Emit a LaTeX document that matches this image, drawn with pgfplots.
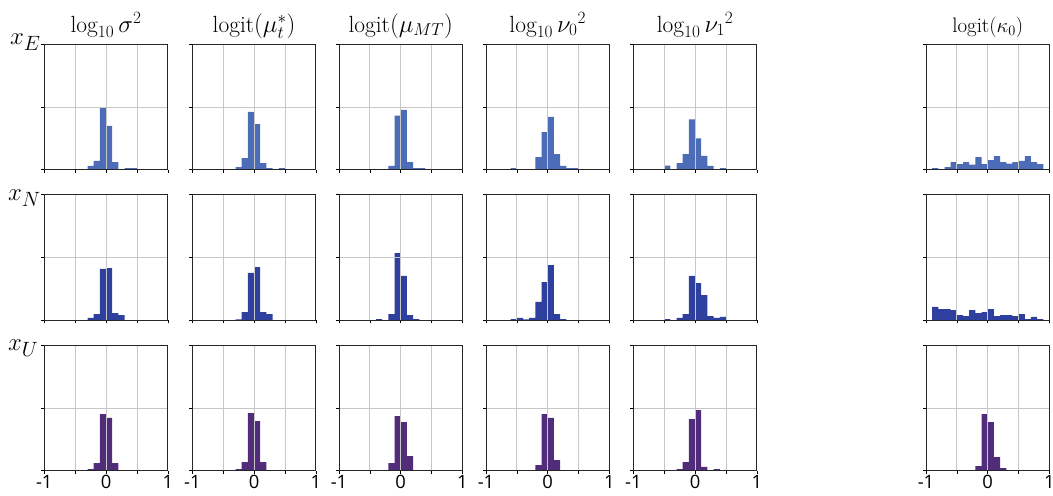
\documentclass[border=0pt]{standalone}
\usepackage{pgfplots}
\pgfplotsset{compat=1.18}
\usepackage{fontspec}
\newfontfamily\tickfont{Open Sans}

\definecolor{cE}{RGB}{76,108,184}
\definecolor{cN}{RGB}{47,63,158}
\definecolor{cU}{RGB}{80,44,122}

\pgfplotsset{
  hist/.style={
    scale only axis, width=123.5bp, height=125.5bp, anchor=south west,
    xmin=-1, xmax=1, ymin=0, ymax=1,
    xtick={-1,-0.5,0,0.5,1}, ytick={0,0.5,1},
    xticklabels={}, yticklabels={},
    grid=major, major grid style={draw=black!22, line width=0.8bp},
    axis on top,
    tick pos=left, tick align=outside, major tick length=3bp,
    tick style={black, line width=0.6bp},
    axis line style={black!85, line width=1bp},
    every axis title/.style={at={(0.5,1)}, anchor=base, yshift=12bp,
      font=\fontsize{23.5}{26}\selectfont},
    xticklabel style={font=\tickfont\fontsize{18.5}{18.5}\selectfont, yshift=2bp},
  },
  bottom/.style={xticklabels={-1,,0,,1}},
}

% x, y of lower left corner, axis options, colour, bins (left edges)
\newcommand{\hist}[5]{%
  \begin{axis}[hist, at={(#1bp,#2bp)}, #3]
    \addplot[ybar interval, fill=#4, draw=none] coordinates {#5};
  \end{axis}}

\begin{document}
\begin{tikzpicture}
\path[use as bounding box] (0,0) rectangle (1053bp,496bp);

% row x_E
\hist{44.3}{326.3}{title={$\log_{10}\sigma^2$}}{cE}{(-0.3,0.03)(-0.2,0.07)(-0.1,0.49)(0,0.35)(0.1,0.06)(0.2,0)(0.3,0.013)(0.4,0.013)(0.5,0)}
\hist{192.3}{326.3}{title={$\mathrm{logit}(\mu_t^*)$}}{cE}{(-0.3,0.02)(-0.2,0.093)(-0.1,0.46)(0,0.364)(0.1,0.053)(0.2,0.013)(0.3,0)(0.4,0.013)(0.5,0)}
\hist{339}{326.3}{title={$\mathrm{logit}(\mu_{MT})$}}{cE}{(-0.2,0.03)(-0.1,0.43)(0,0.476)(0.1,0.06)(0.2,0.013)(0.3,0.013)(0.4,0)}
\hist{486}{326.3}{title={$\log_{10}{\nu_0}^2$}}{cE}{(-0.6,0.013)(-0.5,0)(-0.4,0)(-0.3,0)(-0.2,0.10)(-0.1,0.30)(0,0.42)(0.1,0.125)(0.2,0.03)(0.3,0.013)(0.4,0.013)(0.5,0)}
\hist{633.3}{326.3}{title={$\log_{10}{\nu_1}^2$}}{cE}{(-0.5,0.032)(-0.4,0)(-0.3,0.053)(-0.2,0.125)(-0.1,0.40)(0,0.25)(0.1,0.11)(0.2,0.03)(0.3,0)(0.4,0.013)(0.5,0)}
\hist{926}{326.3}{title={$\mathrm{logit}(\kappa_0)$}, title style={font=\fontsize{21}{24}\selectfont}}{cE}{(-0.9,0.013)(-0.8,0)(-0.7,0.02)(-0.6,0.06)(-0.5,0.045)(-0.4,0.06)(-0.3,0.04)(-0.2,0.10)(-0.1,0.045)(0,0.077)(0.1,0.109)(0.2,0.06)(0.3,0.048)(0.4,0.06)(0.5,0.07)(0.6,0.109)(0.7,0.06)(0.8,0.045)(0.9,0)}

% row x_N
\hist{44.3}{175.7}{}{cN}{(-0.3,0.019)(-0.2,0.05)(-0.1,0.41)(0,0.416)(0.1,0.058)(0.2,0.042)(0.3,0)}
\hist{192.3}{175.7}{}{cN}{(-0.3,0.008)(-0.2,0.066)(-0.1,0.377)(0,0.424)(0.1,0.066)(0.2,0.05)(0.3,0)}
\hist{339}{175.7}{}{cN}{(-0.4,0.01)(-0.3,0)(-0.2,0.05)(-0.1,0.536)(0,0.353)(0.1,0.042)(0.2,0.01)(0.3,0)}
\hist{486}{175.7}{}{cN}{(-0.6,0.01)(-0.5,0.019)(-0.4,0.008)(-0.3,0.019)(-0.2,0.146)(-0.1,0.305)(0,0.44)(0.1,0.05)(0.2,0.01)(0.3,0)}
\hist{633.3}{175.7}{}{cN}{(-0.5,0.01)(-0.4,0)(-0.3,0.019)(-0.2,0.05)(-0.1,0.353)(0,0.297)(0.1,0.2)(0.2,0.034)(0.3,0.019)(0.4,0.027)(0.5,0)}
\hist{926}{175.7}{}{cN}{(-0.9,0.106)(-0.8,0.09)(-0.7,0.09)(-0.6,0.082)(-0.5,0.042)(-0.4,0.034)(-0.3,0.082)(-0.2,0.058)(-0.1,0.066)(0,0.09)(0.1,0.034)(0.2,0.042)(0.3,0.042)(0.4,0.034)(0.5,0.05)(0.6,0.01)(0.7,0.027)(0.8,0.01)(0.9,0)}

% row x_U
\hist{44.3}{25.3}{bottom}{cU}{(-0.3,0.013)(-0.2,0.061)(-0.1,0.45)(0,0.42)(0.1,0.061)(0.2,0)}
\hist{192.3}{25.3}{bottom}{cU}{(-0.3,0.013)(-0.2,0.069)(-0.1,0.459)(0,0.395)(0.1,0.069)(0.2,0)}
\hist{339}{25.3}{bottom}{cU}{(-0.2,0.061)(-0.1,0.435)(0,0.387)(0.1,0.117)(0.2,0)}
\hist{486}{25.3}{bottom}{cU}{(-0.2,0.045)(-0.1,0.45)(0,0.42)(0.1,0.085)(0.2,0)}
\hist{633.3}{25.3}{bottom}{cU}{(-0.3,0.013)(-0.2,0.069)(-0.1,0.41)(0,0.483)(0.1,0.03)(0.2,0)(0.3,0.013)(0.4,0)}
\hist{926}{25.3}{bottom}{cU}{(-0.2,0.037)(-0.1,0.45)(0,0.387)(0.1,0.109)(0.2,0.021)(0.3,0)}

% row labels
\node[anchor=base west, inner sep=0pt, font=\fontsize{28}{28}\selectfont] at (10bp,451bp) {$x_E$};
\node[anchor=base west, inner sep=0pt, font=\fontsize{28}{28}\selectfont] at (8bp,295.3bp) {$x_N$};
\node[anchor=base west, inner sep=0pt, font=\fontsize{28}{28}\selectfont] at (8bp,145.3bp) {$x_U$};
\end{tikzpicture}
\end{document}
